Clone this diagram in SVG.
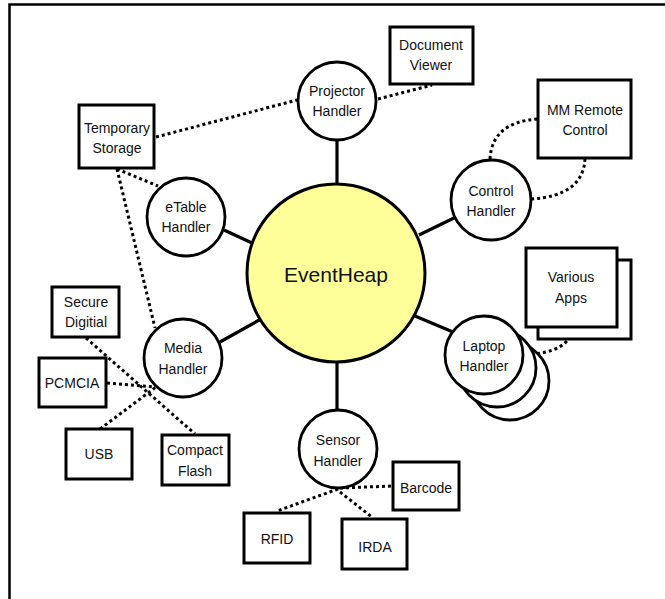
<svg xmlns="http://www.w3.org/2000/svg" width="665" height="599" viewBox="0 0 665 599">
<style>
text{font-family:"Liberation Sans",Arial,sans-serif;font-size:14px;fill:#111;text-anchor:middle}
.c{fill:#fff;stroke:#000;stroke-width:2.8}
.b{fill:#fff;stroke:#000;stroke-width:3}
.s{stroke:#000;stroke-width:3.2;fill:none}
.d{stroke:#000;stroke-width:3;stroke-dasharray:3 3;fill:none}
</style>
<rect width="665" height="599" fill="#fff"/>
<path d="M665 4.5H9.5V599" fill="none" stroke="#000" stroke-width="2.5"/>
<g id="connectors">
<line class="s" x1="337" y1="139" x2="337" y2="184"/>
<line class="s" x1="337" y1="362" x2="337" y2="410"/>
<line class="s" x1="419" y1="235" x2="456" y2="217"/>
<line class="s" x1="224" y1="230" x2="252" y2="243"/>
<line class="s" x1="220" y1="342" x2="261" y2="319"/>
<line class="s" x1="415" y1="316" x2="453" y2="332"/>
<line class="d" x1="378" y1="99" x2="432" y2="85"/>
<line class="d" x1="156" y1="137" x2="297" y2="100"/>
<line class="d" x1="117" y1="169" x2="158" y2="186"/>
<line class="d" x1="117" y1="169" x2="155" y2="328"/>
<path class="d" d="M490 159Q492 122 538 119"/>
<path class="d" d="M531 199Q583 196 585 159"/>
<path class="d" d="M525 355Q570 352 572 329"/>
<line class="d" x1="86" y1="338" x2="195" y2="434"/>
<line class="d" x1="107" y1="383" x2="155" y2="387"/>
<line class="d" x1="100" y1="429" x2="156" y2="387"/>
<line class="d" x1="340" y1="488" x2="393" y2="486"/>
<line class="d" x1="338" y1="489" x2="277" y2="511"/>
<line class="d" x1="340" y1="492" x2="373" y2="518"/>
</g>
<g id="eventheap"><circle cx="336" cy="273" r="89" fill="#ffff99" stroke="#000" stroke-width="3"/><text x="336" y="282" style="font-size:21px">EventHeap</text></g>
<g id="projector"><circle class="c" cx="337" cy="101" r="39"/><text x="337" y="96">Projector</text><text x="337" y="116">Handler</text></g>
<g id="control"><circle class="c" cx="491" cy="200" r="40"/><text x="491" y="196">Control</text><text x="491" y="216">Handler</text></g>
<g id="etable"><circle class="c" cx="186" cy="217" r="39"/><text x="186" y="212">eTable</text><text x="186" y="232">Handler</text></g>
<g id="media"><circle class="c" cx="183" cy="358" r="39"/><text x="183" y="353">Media</text><text x="183" y="374">Handler</text></g>
<g id="sensor"><circle class="c" cx="338" cy="449" r="39"/><text x="338" y="445">Sensor</text><text x="338" y="466">Handler</text></g>
<g id="laptop"><circle class="c" cx="510" cy="381" r="39"/><circle class="c" cx="497" cy="368" r="39"/><circle class="c" cx="484" cy="355" r="39"/><text x="484" y="351">Laptop</text><text x="484" y="371">Handler</text></g>
<g id="docviewer"><rect class="b" x="390" y="27" width="83" height="57"/><text x="431" y="50">Document</text><text x="431" y="70">Viewer</text></g>
<g id="mmremote"><rect class="b" x="538" y="80" width="93" height="78"/><text x="585" y="115">MM Remote</text><text x="585" y="135">Control</text></g>
<g id="tempstorage"><rect class="b" x="79" y="105" width="75" height="63"/><text x="117" y="133">Temporary</text><text x="117" y="153">Storage</text></g>
<g id="variousapps"><rect class="b" x="538" y="260" width="93" height="79"/><rect class="b" x="526" y="248" width="91" height="79"/><text x="571" y="282">Various</text><text x="571" y="303">Apps</text></g>
<g id="securedigital"><rect class="b" x="52" y="287" width="67" height="50"/><text x="86" y="307">Secure</text><text x="86" y="327">Digitial</text></g>
<g id="pcmcia"><rect class="b" x="39" y="358" width="67" height="49"/><text x="72" y="388">PCMCIA</text></g>
<g id="usb"><rect class="b" x="66" y="429" width="66" height="50"/><text x="99" y="459">USB</text></g>
<g id="compactflash"><rect class="b" x="162" y="435" width="67" height="50"/><text x="195" y="455">Compact</text><text x="195" y="476">Flash</text></g>
<g id="barcode"><rect class="b" x="393" y="462" width="66" height="48"/><text x="426" y="493">Barcode</text></g>
<g id="rfid"><rect class="b" x="244" y="513" width="66" height="50"/><text x="277" y="544">RFID</text></g>
<g id="irda"><rect class="b" x="342" y="519" width="65" height="50"/><text x="375" y="552">IRDA</text></g>
</svg>
